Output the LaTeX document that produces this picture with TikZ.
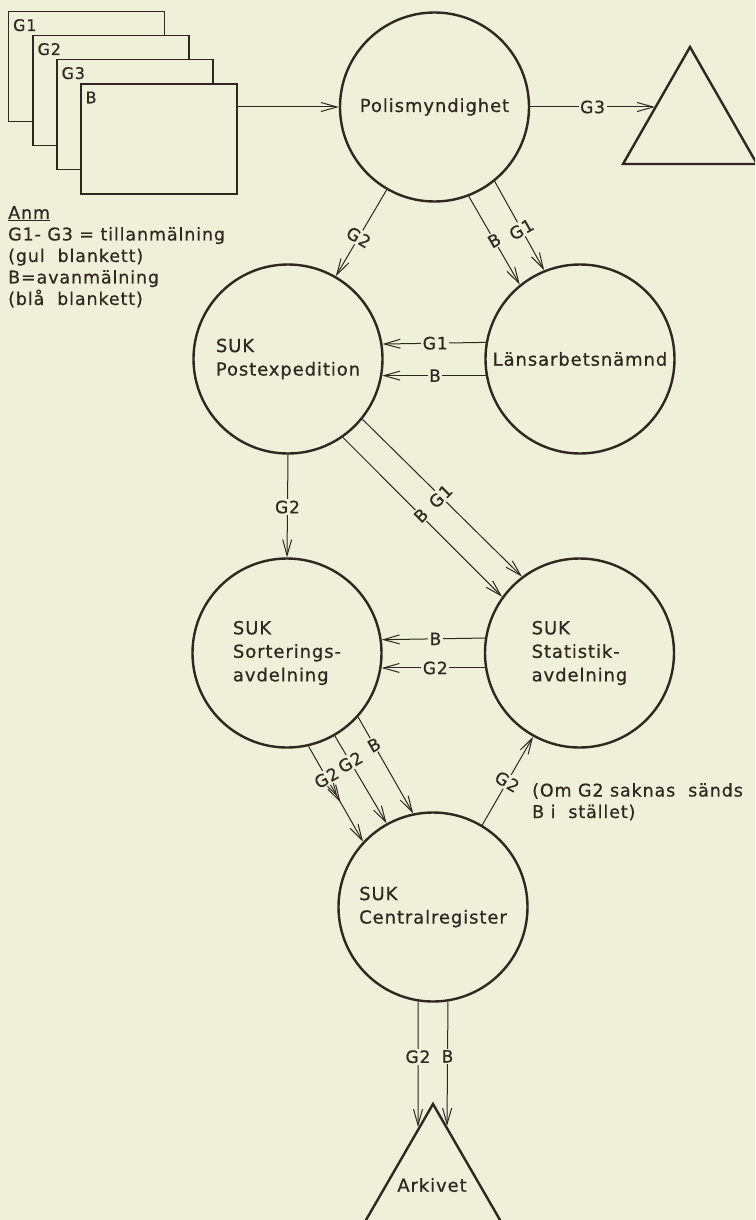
\documentclass[tikz,border=0pt]{standalone}
\usepackage{fontspec}
\setmainfont{DejaVu Sans}[LetterSpace=5,FakeBold=0.6]
\usetikzlibrary{arrows.meta,decorations.markings}
\definecolor{bg}{RGB}{238,240,218}
\definecolor{ink}{RGB}{48,40,32}
\newcommand\circfont{\fontsize{18}{23.5}\selectfont}
\newcommand\lblfont{\fontsize{17}{20}\selectfont}
\newcommand\docfont{\fontsize{16}{18}\selectfont}
\newcommand\notefont{\fontsize{17.5}{21.5}\selectfont}
\begin{document}
\begin{tikzpicture}[x=1pt,y=-1pt,
  every node/.style={text=ink},
  proc/.style={circle, draw=ink, line width=2.4pt, minimum size=189pt, inner sep=0pt, align=left, font=\circfont},
  doc/.style={rectangle, draw=ink, fill=bg, line width=1.2pt, minimum width=156pt, minimum height=110pt, inner sep=0pt},
  flow/.style={draw=ink, line width=1pt, -{Straight Barb[length=16pt,width=9pt]}},
  lbl/.style={fill=bg, inner sep=1.5pt, font=\lblfont},
  store/.style={draw=ink, line width=2.4pt, line join=miter},
  txt/.style={inner sep=0pt, align=left, anchor=north west, font=\notefont},
]
\useasboundingbox (0,0) rectangle (755,1220);
\clip (0,0) rectangle (755,1220);
\fill[bg] (0,0) rectangle (755,1220);

% documents
\node[doc] (docG1) at (86.5,66.5) {};
\node[txt, font=\docfont] (tG1) at ([xshift=5pt,yshift=-8pt]docG1.north west) {G1};
\node[doc] (docG2) at (111,90.5) {};
\node[txt, font=\docfont] (tG2) at ([xshift=5pt,yshift=-8pt]docG2.north west) {G2};
\node[doc] (docG3) at (135,114.5) {};
\node[txt, font=\docfont] (tG3) at ([xshift=5pt,yshift=-8pt]docG3.north west) {G3};
\node[doc] (docB) at (159,139) {};
\node[txt, font=\docfont] (tB) at ([xshift=5pt,yshift=-8pt]docB.north west) {B};

\node[txt] (anm) at (8,206) {\underline{Anm}\\G1- G3 = tillanmälning\\(gul\ \ blankett)\\B=avanmälning\\(blå\ \ blankett)};

% processes
\node[proc] (polis) at (434.5,107) {Polismyndighet};
\node[proc] (lans) at (580,359) {Länsarbetsnämnd};
\node[proc] (post) at (288,359) {SUK\\Postexpedition};
\node[proc] (sort) at (287,653) {SUK\\Sorterings-\\avdelning};
\node[proc] (stat) at (579.5,653) {SUK\\Statistik-\\avdelning};
\node[proc] (central) at (433,907) {SUK\\Centralregister};

% stores
\draw[store] (690,47) -- (757,164) -- (623,164) -- cycle;
\coordinate (triIn) at (655,107);
\draw[store] (433,1104) -- (511,1239) -- (355,1239) -- cycle;
\node[font=\circfont] (arkivet) at (432,1185) {Arkivet};
\coordinate (arkA) at (418,1127);
\coordinate (arkB) at (447,1126);

\node[txt] (note) at (532,783) {(Om G2 saknas\ \ sänds\\B i\ \ stället)};

% flows
\draw[flow] (docB.east |- polis.west) -- (polis.west);
\draw[flow] (polis.east) -- node[lbl] (lG3) {G3} (triIn);
\draw[flow] (polis.-120.8) -- node[lbl, pos=0.55, rotate=-30] (lpG2) {G2} (post.60.5);
\draw[flow] (polis.-69.5) -- node[lbl, pos=0.5, rotate=30] (lpB) {B} (lans.129.7);
\draw[flow] (polis.-51.6) -- node[lbl, pos=0.54, rotate=30] (lpG1) {G1} (lans.112.8);
\draw[flow] (lans.170.9) -- node[lbl, pos=0.49] (llG1) {G1} (post.9.1);
\draw[flow] (lans.190.3) -- node[lbl, pos=0.49] (llB) {B} (post.-10.3);
\draw[flow] (post.south) -- node[lbl, pos=0.51] (lsG2) {G2} (sort.north);
\draw[flow] (post.-55.8) -- node[lbl, pos=0.49, rotate=45] (lpsB) {B} (stat.144.4);
\draw[flow] (post.-39.3) -- node[lbl, pos=0.49, rotate=45] (lpsG1) {G1} (stat.127.7);
\draw[flow] (stat.171.5) -- node[lbl, pos=0.48] (lssB) {B} (sort.8.5);
\draw[flow] (stat.189.7) -- node[lbl, pos=0.48] (lssG2) {G2} (sort.-9.7);
\draw[flow, postaction=decorate, decoration={markings,
    mark=at position 0.53 with {\arrow{Straight Barb[length=16pt,width=9pt]}},
    mark=at position 0.59 with {\arrow{Straight Barb[length=16pt,width=9pt]}}}]
  (sort.-77.5) -- node[lbl, pos=0.33, rotate=30] (lscG2a) {G2} (central.137.5);
\draw[flow] (sort.-60.5) -- node[lbl, pos=0.3, rotate=30] (lscG2b) {G2} (central.119.1);
\draw[flow] (sort.-42.1) -- node[lbl, pos=0.29, rotate=30] (lscB) {B} (central.102.2);
\draw[flow] (central.59) -- node[lbl, pos=0.49, rotate=-30] (lcsG2) {G2} (stat.-119);
\draw[flow] (central.-99.1) -- node[lbl, pos=0.44] (lcaG2) {G2} (arkA);
\draw[flow] (central.-81.5) -- node[lbl, pos=0.44] (lcaB) {B} (arkB);
\end{tikzpicture}
\end{document}
